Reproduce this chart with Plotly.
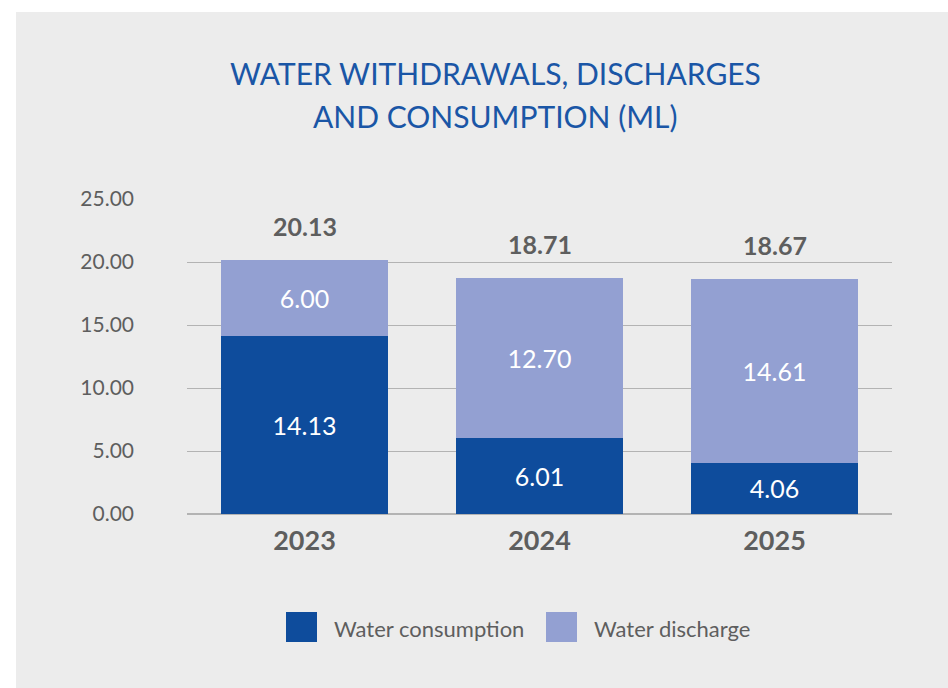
import plotly.graph_objects as go

# Chart data
years = ["2023", "2024", "2025"]
consumption = [14.13, 6.01, 4.06]
discharge = [6.00, 12.70, 14.61]
totals = [20.13, 18.71, 18.67]
y_ticks = [0, 5, 10, 15, 20, 25]
y_tick_labels = ["0.00", "5.00", "10.00", "15.00", "20.00", "25.00"]

DARK = "#0e4c9c"
LIGHT = "#93a0d2"
BG = "#ececec"
GRID = "#b3b3b3"
TEXT = "#5e5e5e"
TITLE = "#1a56a6"
FONT = "Lato"

W, H = 948, 688
L, R, T, B = 187, 892, 199, 514  # plot-area pixel box


def px(x):
    return (x - L) / (R - L)


def py(y):
    return (B - y) / (B - T)


fig = go.Figure()
fig.add_trace(go.Bar(
    x=years, y=consumption, name="Water consumption",
    marker=dict(color=DARK, line=dict(width=0)),
    text=[f"{v:.2f}" for v in consumption], textposition="inside",
    insidetextanchor="middle", constraintext="none",
    textfont=dict(color="white", size=25, family=FONT),
    showlegend=False,
))
fig.add_trace(go.Bar(
    x=years, y=discharge, name="Water discharge",
    marker=dict(color=LIGHT, line=dict(width=0)),
    text=[f"{v:.2f}" for v in discharge], textposition="inside",
    insidetextanchor="middle", constraintext="none",
    textfont=dict(color="white", size=25, family=FONT),
    showlegend=False,
))

annotations = []
# Stack totals above each bar (category index positions)
for i, tot in enumerate(totals):
    annotations.append(dict(
        x=i, y=tot, xref="x", yref="y", text=f"<b>{tot:.2f}</b>",
        showarrow=False, yanchor="bottom", yshift=17,
        font=dict(size=25, color=TEXT, family=FONT),
    ))

# Title
annotations.append(dict(
    x=px(495), y=py(73), xref="paper", yref="paper",
    text="WATER WITHDRAWALS, DISCHARGES", showarrow=False,
    xanchor="center", yanchor="middle",
    font=dict(size=30, color=TITLE, family=FONT),
))
annotations.append(dict(
    x=px(495), y=py(116), xref="paper", yref="paper",
    text="AND CONSUMPTION (ML)", showarrow=False,
    xanchor="center", yanchor="middle",
    font=dict(size=30, color=TITLE, family=FONT),
))

# Legend
legend_items = [("Water consumption", DARK, 286), ("Water discharge", LIGHT, 546)]
shapes = [
    dict(type="rect", xref="paper", yref="paper", x0=px(0), x1=px(W), y0=py(0), y1=py(12),
         fillcolor="white", line=dict(width=0), layer="below"),
    dict(type="rect", xref="paper", yref="paper", x0=px(0), x1=px(16), y0=py(0), y1=py(H),
         fillcolor="white", line=dict(width=0), layer="below"),
]
for label, color, x0 in legend_items:
    shapes.append(dict(type="rect", xref="paper", yref="paper",
                       x0=px(x0), x1=px(x0 + 31), y0=py(642), y1=py(612),
                       fillcolor=color, line=dict(width=0)))
    annotations.append(dict(
        x=px(x0 + 46), y=py(628), xref="paper", yref="paper",
        text=label, showarrow=False, xanchor="left", yanchor="middle",
        font=dict(size=22, color=TEXT, family=FONT),
    ))

fig.update_layout(
    width=W, height=H,
    margin=dict(l=L, r=W - R, t=T, b=H - B, pad=0),
    paper_bgcolor=BG, plot_bgcolor=BG,
    barmode="stack", bargap=0.29,
    font=dict(family=FONT, color=TEXT),
    annotations=annotations, shapes=shapes,
    uniformtext=dict(minsize=8, mode="show"),
    xaxis=dict(
        type="category", range=[-0.5, 2.5], autorange=False,
        showgrid=False, showline=False, zeroline=False,
        tickfont=dict(size=27, color=TEXT, family=FONT),
        tickprefix="<b>", ticksuffix="</b>", ticklabelstandoff=8,
    ),
    yaxis=dict(
        range=[0, 25], tickvals=y_ticks, ticktext=y_tick_labels,
        showgrid=True, gridcolor=GRID, gridwidth=1.2,
        zeroline=True, zerolinecolor=GRID, zerolinewidth=2,
        showline=False, ticks="", ticklabelstandoff=52,
        tickfont=dict(size=21, color=TEXT, family=FONT),
    ),
)

fig.write_html("out.html")
